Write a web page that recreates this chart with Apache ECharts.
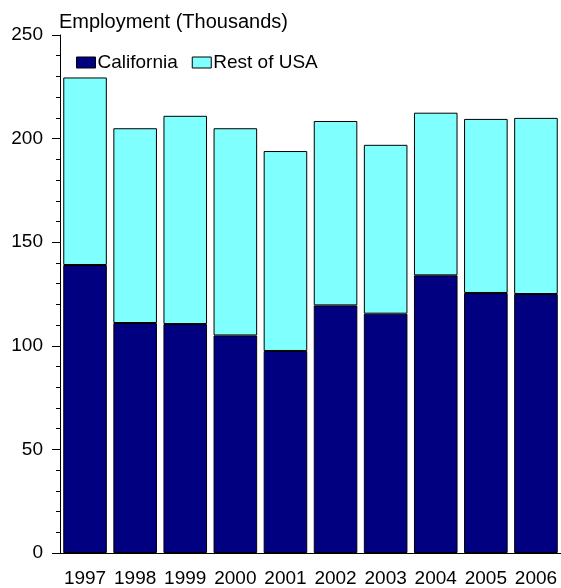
<!DOCTYPE html>
<html>
<head>
<meta charset="utf-8">
<script src="https://cdn.jsdelivr.net/npm/echarts@6/dist/echarts.min.js"></script>
<style>
  html, body { margin: 0; padding: 0; background: #fff; }
  #chart { width: 561px; height: 588px; }
</style>
</head>
<body>
<div id="chart"></div>
<script>
// Employment by year, thousands
const years = ['1997', '1998', '1999', '2000', '2001', '2002', '2003', '2004', '2005', '2006'];
const california = [139, 111, 110.5, 105, 97.5, 119.5, 115.5, 134, 125.5, 125];
const restOfUSA = [90.5, 94, 100.5, 100, 96.5, 89, 81.5, 78.5, 84, 85];
const yTicks = [0, 50, 100, 150, 200, 250];

const FONT = '"Liberation Sans", Arial, sans-serif';
const chart = echarts.init(document.getElementById('chart'), null, { renderer: 'canvas' });

chart.setOption({
  animation: false,
  backgroundColor: '#ffffff',
  title: {
    text: 'Employment (Thousands)',
    left: 59,
    top: 12,
    padding: 0,
    textStyle: { fontFamily: FONT, fontSize: 20, fontWeight: 'normal', color: '#000' }
  },
  legend: {
    left: 76,
    top: 53,
    padding: 0,
    itemWidth: 19,
    itemHeight: 11,
    itemGap: 14,
    icon: 'rect',
    itemStyle: { borderColor: '#000', borderWidth: 1 },
    textStyle: { fontFamily: FONT, fontSize: 19, color: '#000', padding: [0, 0, 0, -3] },
    data: ['California', 'Rest of USA']
  },
  grid: { left: 60, top: 35, width: 503, height: 520, containLabel: false },
  xAxis: {
    type: 'category',
    data: years,
    axisLine: { lineStyle: { color: '#000', width: 1 } },
    axisTick: { alignWithLabel: true, length: 7, lineStyle: { color: '#555' } },
    axisLabel: { interval: 0, fontFamily: FONT, fontSize: 19, color: '#000', margin: 16 }
  },
  yAxis: {
    type: 'value',
    min: yTicks[0],
    max: yTicks[yTicks.length - 1],
    interval: 50,
    axisLine: { show: true, lineStyle: { color: '#000', width: 1 } },
    axisTick: { show: true, length: 8, lineStyle: { color: '#000' } },
    minorTick: { show: true, splitNumber: 5, length: 4, lineStyle: { color: '#000' } },
    splitLine: { show: false },
    axisLabel: { fontFamily: FONT, fontSize: 19, color: '#000', margin: 17 }
  },
  series: [
    {
      name: 'California',
      type: 'bar',
      stack: 'total',
      data: california,
      barCategoryGap: '13%',
      itemStyle: { color: '#000080', borderColor: '#000', borderWidth: 1 }
    },
    {
      name: 'Rest of USA',
      type: 'bar',
      stack: 'total',
      data: restOfUSA,
      barCategoryGap: '13%',
      itemStyle: { color: '#80ffff', borderColor: '#000', borderWidth: 1 }
    }
  ]
});
</script>
</body>
</html>
